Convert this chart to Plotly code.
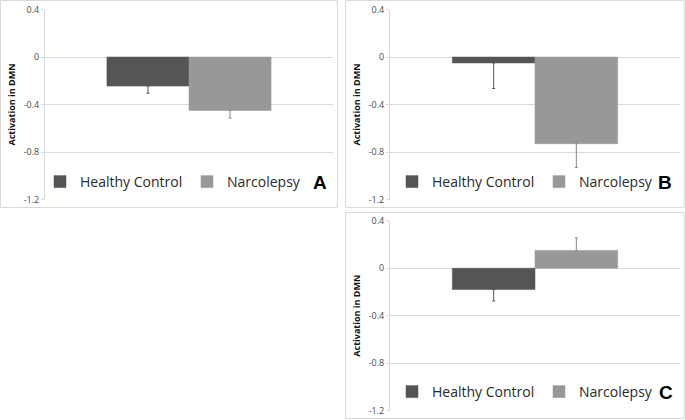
import plotly.graph_objects as go

W, H = 685, 420

panels = ["A", "B", "C"]
series_names = ["Healthy Control", "Narcolepsy"]
hc_values = [-0.245, -0.05, -0.18]
hc_errors = [0.06, 0.215, 0.095]
nc_values = [-0.45, -0.73, 0.15]
nc_errors = [0.065, 0.2, 0.105]
y_tickvals = [0.4, 0.0, -0.4, -0.8, -1.2]
y_ticktext = ["0.4", "0", "-0.4", "-0.8", "-1.2"]
y_title = "Activation in DMN"

HC_COLOR = "#555555"
NC_COLOR = "#989898"
GRID = "#d9d9d9"

def px_x(p):
    return p / W

def px_y(p):
    return 1 - p / H

# plot areas in pixels: (x0, x1, ytop, ybottom)
areas = [(45, 333, 9.5, 199.5), (390, 680, 9.5, 199.5), (390, 680, 220.7, 410.7)]
boxes = [(0.5, 337.5, 0.5, 207.5), (345.5, 684, 0.5, 207.5), (345.5, 684, 212.5, 418.5)]
legend_pos = [(40, 182), (392, 182), (392, 392)]
letter_pos = [(320, 182), (665, 182), (666, 392)]

fig = go.Figure()
for i, p in enumerate(panels):
    sfx = "" if i == 0 else str(i + 1)
    leg = "legend" if i == 0 else "legend" + str(i + 1)
    vals = [hc_values[i], nc_values[i]]
    errs = [hc_errors[i], nc_errors[i]]
    colors = [HC_COLOR, NC_COLOR]
    ecolors = ["#555555", "#8a8a8a"]
    for j in range(2):
        v, e = vals[j], errs[j]
        fig.add_trace(go.Bar(
            x=[p], y=[v], name=series_names[j],
            marker=dict(color=colors[j], line=dict(color=colors[j], width=0.5)),
            error_y=dict(type="data", symmetric=False,
                         array=[e if v >= 0 else 0],
                         arrayminus=[e if v < 0 else 0],
                         color=ecolors[j], thickness=1, width=1.5),
            xaxis="x" + sfx, yaxis="y" + sfx, legend=leg,
        ))
    x0, x1, yt, yb = areas[i]
    fig.layout["xaxis" + sfx] = dict(domain=[px_x(x0), px_x(x1)], anchor="y" + sfx,
                                     showticklabels=False, showgrid=False, automargin=False,
                                     showline=False, zeroline=False, ticks="")
    fig.layout["yaxis" + sfx] = dict(domain=[px_y(yb), px_y(yt)], anchor="x" + sfx,
                                     range=[-1.2, 0.4], tickvals=y_tickvals, ticktext=y_ticktext,
                                     showgrid=True, gridcolor=GRID, gridwidth=1, automargin=False,
                                     zeroline=False, showline=True, linecolor=GRID, linewidth=1,
                                     ticks="outside", ticklen=3, tickcolor=GRID,
                                     tickfont=dict(size=9, color="#4a4a4a", family="Open Sans"),
                                     title=dict(text="<b>" + y_title + "</b>", standoff=6,
                                                font=dict(size=9, color="#111111", family="Open Sans")))
    lx, ly = legend_pos[i]
    fig.layout[leg] = dict(x=px_x(lx), y=px_y(ly), xanchor="left", yanchor="middle",
                           orientation="h", bgcolor="rgba(0,0,0,0)",
                           font=dict(size=14, color="#2a2a2a", family="Open Sans"),
                           itemwidth=30, tracegroupgap=0,
                           entrywidth=102, entrywidthmode="pixels")
    bx0, bx1, by0, by1 = boxes[i]
    fig.add_shape(type="rect", xref="paper", yref="paper",
                  x0=px_x(bx0), x1=px_x(bx1), y0=px_y(by1), y1=px_y(by0),
                  line=dict(color=GRID, width=1), layer="below")
    tx, ty = letter_pos[i]
    fig.add_annotation(text="<b>" + p + "</b>", x=px_x(tx), y=px_y(ty), xref="paper", yref="paper",
                       showarrow=False, xanchor="center", yanchor="middle",
                       font=dict(size=19, color="#000000", family="Liberation Sans"))

fig.update_layout(width=W, height=H, margin=dict(l=0, r=0, t=0, b=0, autoexpand=False),
                  paper_bgcolor="white", plot_bgcolor="white",
                  barmode="group", bargap=0.43, bargroupgap=0, showlegend=True)

fig.write_html("out.html", config={"displayModeBar": False},
               post_script="document.body.style.margin='0';")
